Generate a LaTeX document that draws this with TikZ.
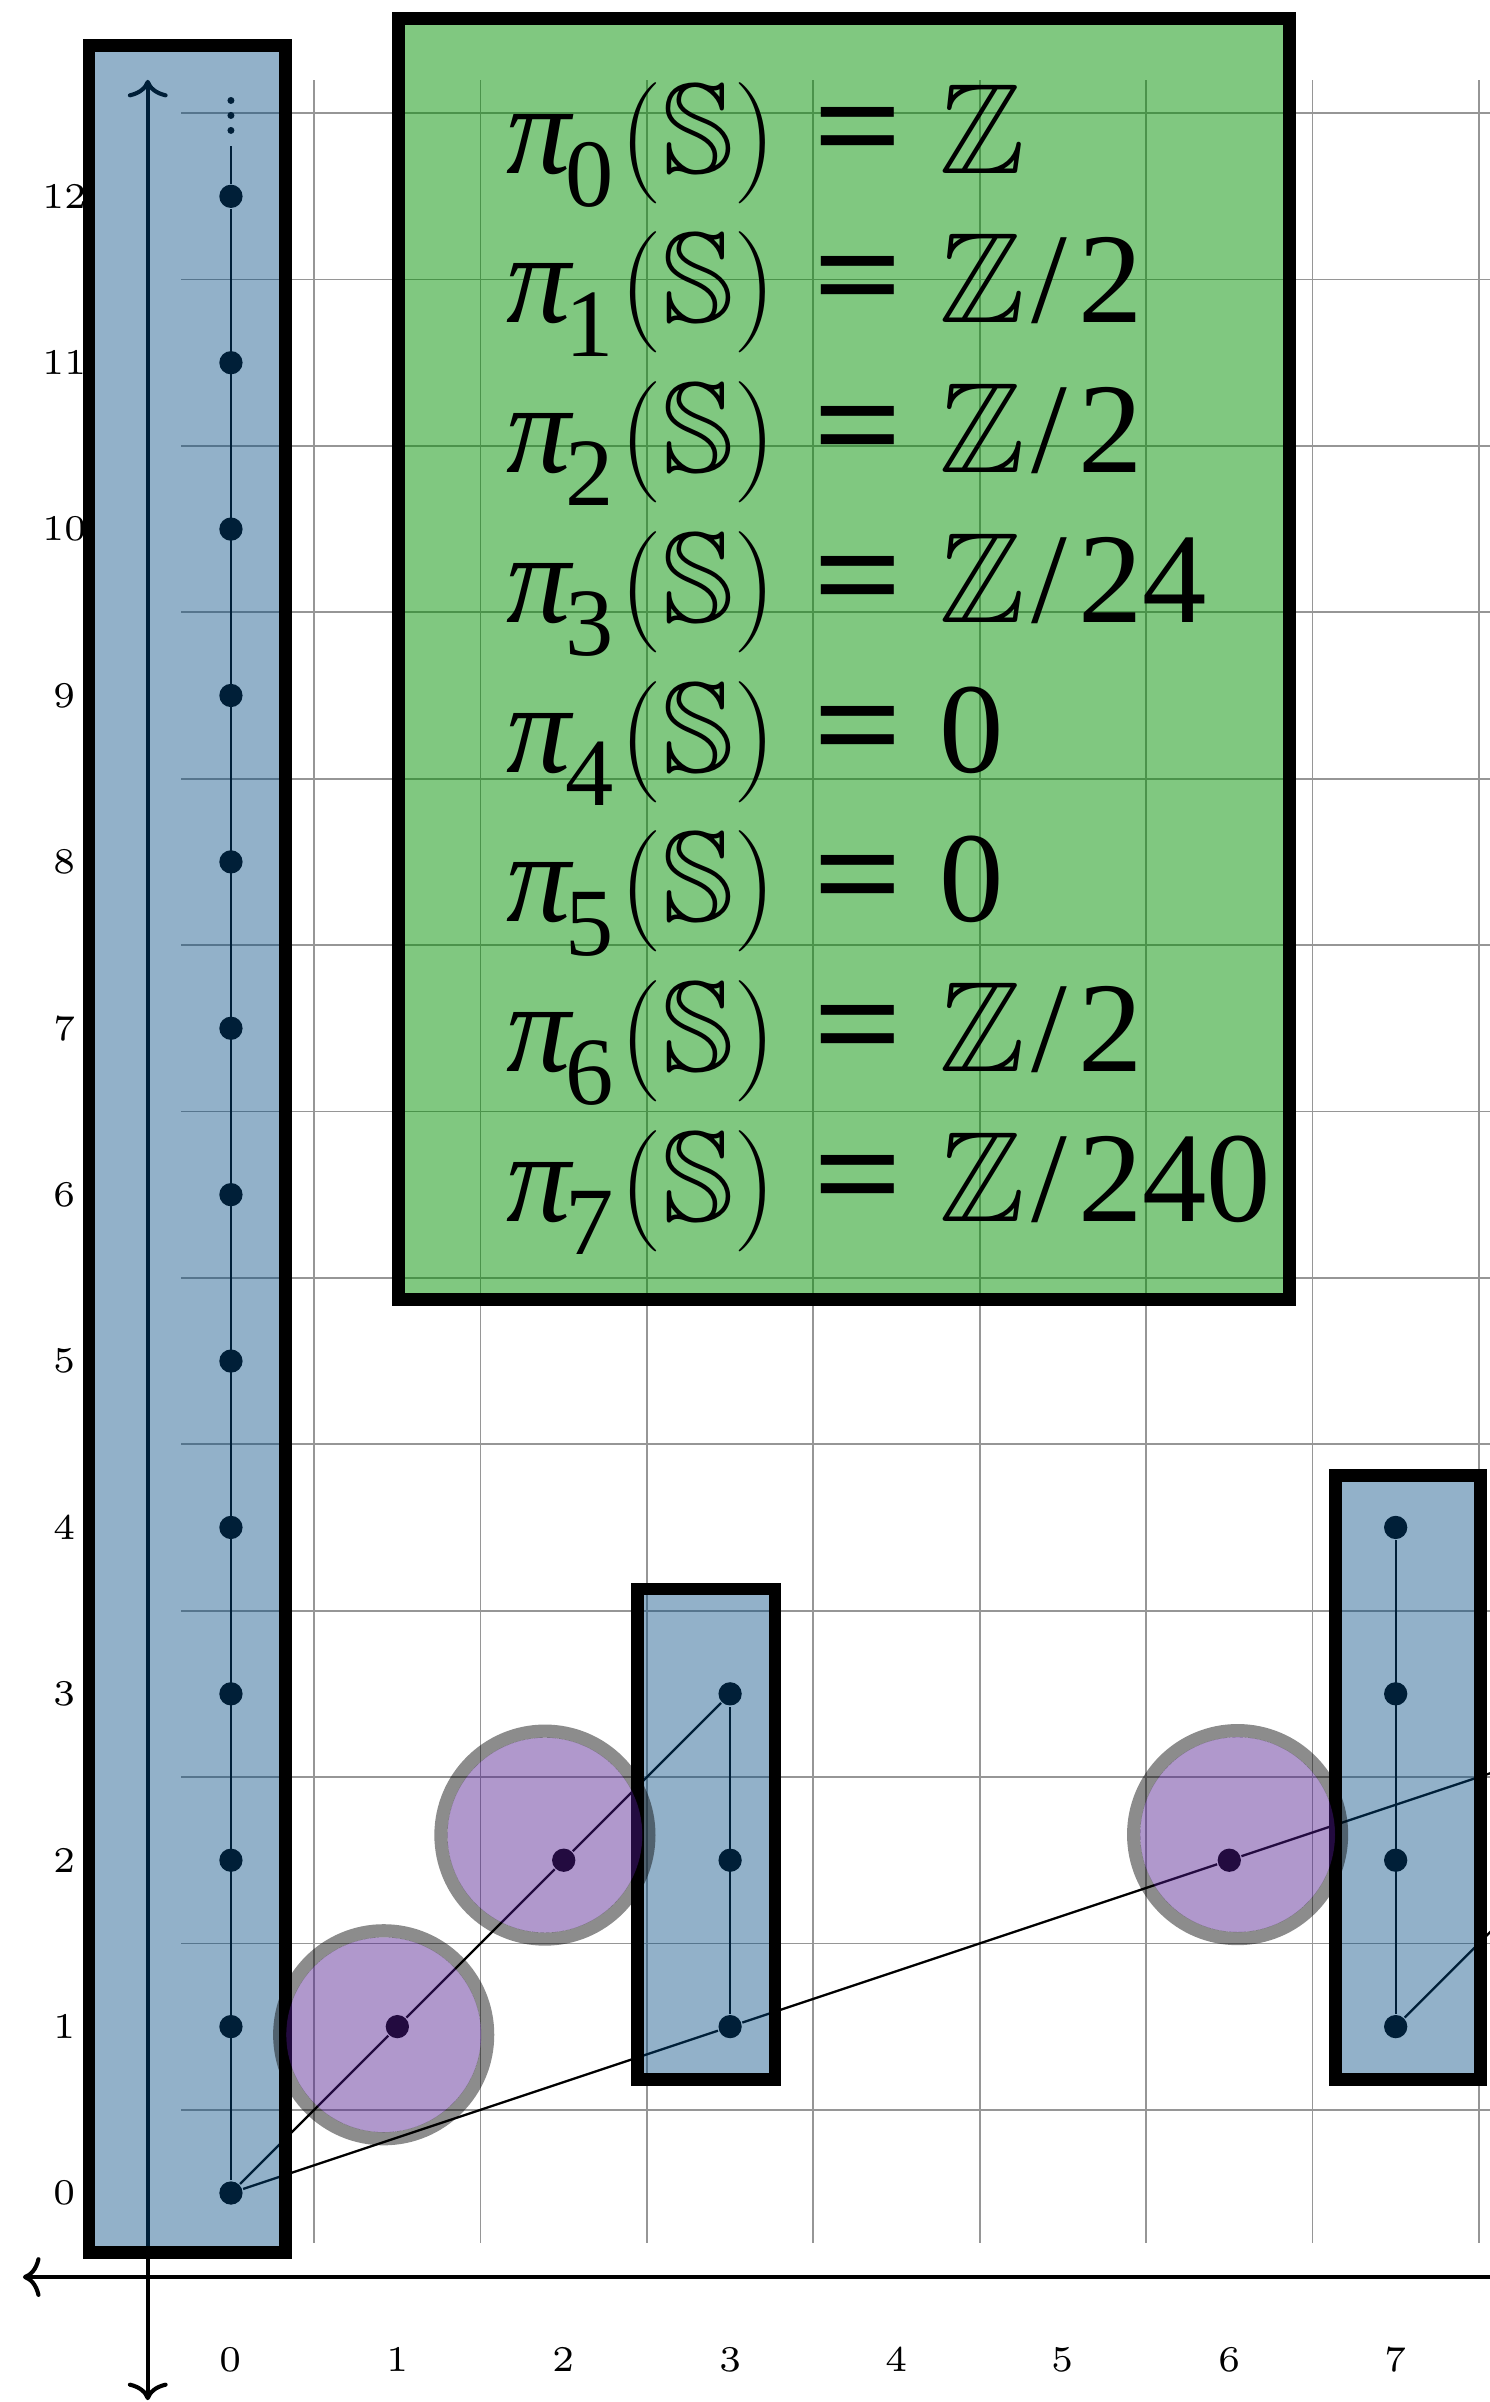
\documentclass[tikz,border=0pt]{standalone}
\usepackage{amsmath,amssymb}
\DeclareFontFamily{U}{msb}{}
\DeclareFontShape{U}{msb}{m}{n}{<-6> msbm5 <6-8> msbm7 <8-> msbm10}{}
\usepackage{fontspec}
\newfontfamily\timesfont{Liberation Serif}
\usetikzlibrary{arrows.meta}
\definecolor{boxblue}{RGB}{2,74,130}
\definecolor{boxgreen}{RGB}{1,145,1}
\definecolor{ringfill}{RGB}{79,26,142}
\definecolor{gridgray}{RGB}{150,150,150}
\newcommand{\piline}[2]{{\itshape π}\kern-0.04em\raisebox{-0.26em}{\fontsize{16.5}{16.5}\selectfont #1}\kern0.04em$(\mathbb{S})$\hspace{6.3pt}\scalebox{1.22}[1.1]{\bfseries =}\hspace{6.3pt}#2}
\newcommand{\bbZ}{$\mathbb{Z}$}
\newcommand{\zmod}[1]{$\mathbb{Z}$\kern1pt/\kern1.9pt#1}
\begin{document}
\begin{tikzpicture}[
  gridline/.style={draw=gridgray, line width=0.3pt},
  conn/.style={draw=black, line width=0.4pt},
  dot/.style={circle, fill=black, inner sep=0pt, minimum size=0.14cm},
  lab/.style={font=\fontsize{6.2}{7}\selectfont, inner sep=0pt},
  axisline/.style={line width=0.7pt},
  bluebox/.style={fill=boxblue, fill opacity=0.43, draw=black, line width=2.2pt},
  greenbox/.style={fill=boxgreen, fill opacity=0.5, draw=black, line width=2.2pt},
  ringfillst/.style={fill=ringfill, fill opacity=0.45},
  ringst/.style={draw=black, draw opacity=0.45, line width=2.25pt},
  eq/.style={anchor=base west, inner sep=0pt, font=\timesfont\fontsize{22}{26}\selectfont},
]
\clip (-1.388,-1.256) rectangle (7.566,13.18);
% grid
\foreach \x in {0.5,1.5,...,7.5} \draw[gridline] (\x,-0.3) -- (\x,12.7);
\foreach \y in {0.5,1.5,...,12.5} \draw[gridline] (-0.3,\y) -- (7.7,\y);
% labels
\foreach \x in {0,...,7} \node[lab] (xl\x) at (\x,-1) {\x};
\foreach \y in {0,...,12} \node[lab] (yl\y) at (-1,\y) {\y};
% dots
\foreach \y in {0,...,12} \node[dot] (c0-\y) at (0,\y) {};
\foreach \y in {1,2,3} \node[dot] (c3-\y) at (3,\y) {};
\foreach \y in {1,2,3,4} \node[dot] (c7-\y) at (7,\y) {};
\node[dot] (d11) at (1,1) {};
\node[dot] (d22) at (2,2) {};
\node[dot] (d62) at (6,2) {};
\coordinate (top0) at (0,12.30);
\coordinate (e1) at (9,3);
\coordinate (e2) at (8,2);
% connectors
\draw[conn] (c0-0) -- (c0-12) -- (top0);
\draw[conn] (c3-1) -- (c3-3);
\draw[conn] (c7-1) -- (c7-4);
\draw[conn] (c0-0) -- (d11) -- (d22) -- (c3-3);
\draw[conn] (c0-0) -- (c3-1) -- (d62) -- (e1);
\draw[conn] (c7-1) -- (e2);
\foreach \yy in {12.396,12.486,12.576} \fill (0,\yy) circle (0.021);
% axes
\draw[axisline, {Computer Modern Rightarrow[width=6.8pt,length=3pt]}-{Computer Modern Rightarrow[width=6.8pt,length=3pt]}] (-0.5,-1.245) -- (-0.5,12.70);
\draw[axisline, {Computer Modern Rightarrow[width=6.8pt,length=3pt]}-{Computer Modern Rightarrow[width=6.8pt,length=3pt]}] (-1.25,-0.505) -- (9,-0.505);
% blue boxes
\draw[bluebox] (-0.853,-0.36) rectangle (0.328,12.908);
\draw[bluebox] (2.443,0.68) rectangle (3.27,3.63);
\draw[bluebox] (6.64,0.68) rectangle (7.51,4.31);
% purple circles
\foreach \cx/\cy in {0.918/0.951, 1.887/2.151, 6.05/2.154} {
  \fill[ringfillst] (\cx,\cy) circle (0.586);
  \draw[ringst] (\cx,\cy) circle (0.625);
}
% green box
\draw[greenbox] (1.007,5.37) rectangle (6.36,13.07);
\node[eq] (p0) at (1.65,12.14) {\piline{0}{\bbZ}};
\node[eq] (p1) at (1.65,11.24) {\piline{1}{\zmod{2}}};
\node[eq] (p2) at (1.65,10.34) {\piline{2}{\zmod{2}}};
\node[eq] (p3) at (1.65,9.44) {\piline{3}{\zmod{24}}};
\node[eq] (p4) at (1.65,8.54) {\piline{4}{0}};
\node[eq] (p5) at (1.65,7.64) {\piline{5}{0}};
\node[eq] (p6) at (1.65,6.74) {\piline{6}{\zmod{2}}};
\node[eq] (p7) at (1.65,5.84) {\piline{7}{\zmod{240}}};
\end{tikzpicture}
\end{document}
